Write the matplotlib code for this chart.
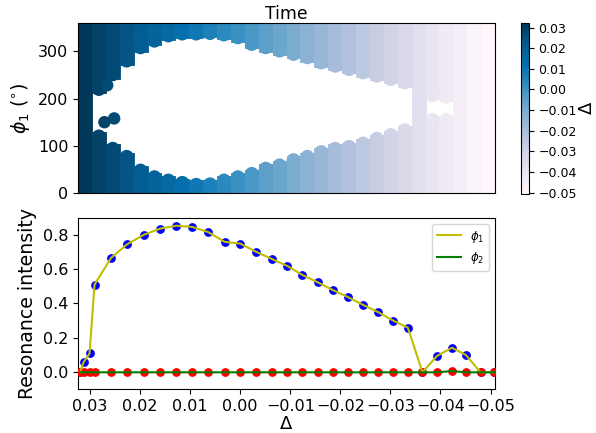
import numpy as np
import matplotlib
matplotlib.use("Agg")
import matplotlib.pyplot as plt
from matplotlib.colors import Normalize

# ---- data: bottom panel ----
delta = [0.0320, 0.0313, 0.0301, 0.0291, 0.0258, 0.0226, 0.0192, 0.0160, 0.0128, 0.0096,
         0.0064, 0.0031, 0.0000, -0.0032, -0.0063, -0.0094, -0.0124, -0.0155, -0.0185, -0.0216,
         -0.0246, -0.0276, -0.0306, -0.0335, -0.0364, -0.0393, -0.0423, -0.0451, -0.0480, -0.0507]
phi1_int = [0.0, 0.058, 0.11, 0.51, 0.665, 0.744, 0.80, 0.835, 0.852, 0.845,
            0.815, 0.758, 0.748, 0.70, 0.659, 0.618, 0.566, 0.523, 0.478, 0.436,
            0.391, 0.349, 0.30, 0.259, 0.0, 0.095, 0.143, 0.10, 0.0, 0.0]
phi2_int = [0.0, 0.0, 0.0, 0.0, 0.0, 0.0, 0.0, 0.0, 0.0, 0.0,
            0.0, 0.0, 0.0, 0.0, 0.0, 0.0, 0.0, 0.0, 0.0, 0.0,
            0.0, 0.0, 0.0, 0.0, 0.0, 0.0, 0.007, 0.0, 0.0, 0.0]

# ---- data: top panel (one column per time step) ----
delta_top = [0.0320, 0.0291, 0.0263, 0.0234, 0.0206, 0.0177, 0.0149, 0.0120, 0.0092, 0.0063,
             0.0035, 0.0006, -0.0023, -0.0051, -0.0080, -0.0108, -0.0137, -0.0165, -0.0194, -0.0222,
             -0.0251, -0.0279, -0.0308, -0.0336, -0.0365, -0.0393, -0.0422, -0.0450, -0.0479, -0.0507]
hole_lo = [np.nan, 135, 109, 92, 63, 49, 42, 37, 33, 34,
           42, 49, 56, 67, 74, 85, 92, 102, 109, 113,
           120, 130, 138, 148, np.nan, 170, 170, np.nan, np.nan, np.nan]
hole_hi = [np.nan, 205, 236, 265, 293, 307, 318, 322, 322, 323,
           320, 314, 300, 293, 286, 279, 272, 261, 254, 247,
           240, 233, 226, 219, np.nan, 192, 189, np.nan, np.nan, np.nan]
blob_col = [2.1, 1.4, 1.6]
blob_phi = [158, 150, 228]
phi_max = 360
bar_gap = 6     # degrees between bar end and hole edge
dot_off = 15    # marker radius, in degrees

fig = plt.figure(figsize=(5.96, 4.33), dpi=100)
ax1 = fig.add_axes([0.1309, 0.5536, 0.6997, 0.394])
ax2 = fig.add_axes([0.1309, 0.1016, 0.6997, 0.395])
cax = fig.add_axes([0.8737, 0.552, 0.0134, 0.3956])

cmap = plt.get_cmap("PuBu")
norm = Normalize(vmin=-0.0507, vmax=0.0324)

xs = np.arange(len(delta_top))
cols = np.array([cmap(norm(d)) for d in delta_top])
lo = np.array(hole_lo, dtype=float)
hi = np.array(hole_hi, dtype=float)
has = ~np.isnan(lo)
low_h = np.where(has, lo - bar_gap, phi_max)
ax1.bar(xs, low_h, bottom=0, width=1.0, color=cols, edgecolor=cols, linewidth=0.6, zorder=1)
ax1.bar(xs[has], phi_max - (hi[has] + bar_gap), bottom=hi[has] + bar_gap, width=1.0,
        color=cols[has], edgecolor=cols[has], linewidth=0.6, zorder=1)
ax1.scatter(xs[has], lo[has] - dot_off, s=100, c=cols[has], linewidths=0, zorder=2)
ax1.scatter(xs[has], hi[has] + dot_off, s=100, c=cols[has], linewidths=0, zorder=2)
blob_c = [cols[int(round(b))] for b in blob_col]
ax1.scatter(blob_col, blob_phi, s=80, c=blob_c, linewidths=0, zorder=2)
ax1.set_xlim(-0.5, len(delta_top) - 0.5)
ax1.set_ylim(0, phi_max)
ax1.set_xticks([])
ax1.set_yticks([0, 100, 200, 300])
ax1.tick_params(labelsize=11.5)
ax1.set_ylabel(r"$\phi_1$ ($^{\circ}$)", fontsize=13.6)
ax1.set_title("Time", fontsize=12.4, pad=3)

sm = plt.cm.ScalarMappable(norm=norm, cmap=cmap)
cb = fig.colorbar(sm, cax=cax)
cb.set_ticks([0.03, 0.02, 0.01, 0.0, -0.01, -0.02, -0.03, -0.04, -0.05])
cb.ax.tick_params(labelsize=9)
cb.set_label(r"$\Delta$", fontsize=13, labelpad=1)

ax2.scatter(delta, phi1_int, s=28, color="blue", zorder=2)
ax2.scatter(delta, phi2_int, s=28, color="red", zorder=3)
ax2.plot(delta, phi1_int, color="y", lw=1.5, label=r"$\phi_1$", zorder=4)
ax2.plot(delta, phi2_int, color="g", lw=1.5, label=r"$\phi_2$", zorder=4)
ax2.set_xlim(0.0324, -0.0509)
ax2.set_ylim(-0.097, 0.897)
ax2.set_xticks([0.03, 0.02, 0.01, 0.0, -0.01, -0.02, -0.03, -0.04, -0.05])
ax2.set_yticks([0.0, 0.2, 0.4, 0.6, 0.8])
ax2.tick_params(labelsize=11.5)
ax2.set_xlabel(r"$\Delta$", fontsize=13, labelpad=1)
ax2.set_ylabel("Resonance intensity", fontsize=13.6)
ax2.legend(loc="upper right", fontsize=8.5)

fig.savefig("out.png", dpi=100)
